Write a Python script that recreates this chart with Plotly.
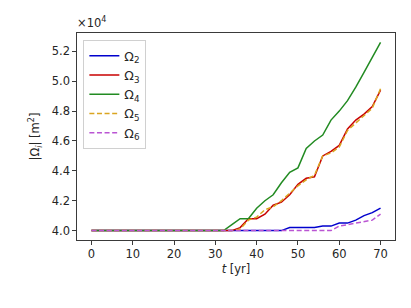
import plotly.graph_objects as go

t = list(range(0, 72, 2))

omega2 = [4.0]*24 + [4.02, 4.02, 4.02, 4.02, 4.03, 4.03, 4.05, 4.05, 4.07, 4.10, 4.12, 4.15]
omega3 = [4.0]*18 + [4.02, 4.08, 4.08, 4.11, 4.17, 4.19, 4.24, 4.31, 4.35, 4.36, 4.50, 4.53, 4.57, 4.68, 4.74, 4.78, 4.83, 4.94]
omega4 = [4.0]*17 + [4.04, 4.08, 4.08, 4.15, 4.20, 4.24, 4.32, 4.39, 4.42, 4.55, 4.60, 4.64, 4.74, 4.80, 4.87, 4.96, 5.06, 5.16, 5.26]
omega5 = [4.0]*18 + [4.01, 4.07, 4.09, 4.14, 4.16, 4.20, 4.25, 4.30, 4.34, 4.37, 4.50, 4.52, 4.56, 4.67, 4.72, 4.77, 4.82, 4.95]
omega6 = [4.0]*30 + [4.03, 4.04, 4.05, 4.06, 4.07, 4.11]

scale = 1e4
x_ticks = [0, 10, 20, 30, 40, 50, 60, 70]
y_ticks = [4.0, 4.2, 4.4, 4.6, 4.8, 5.0, 5.2]

series = [
    ("Ω<sub>2</sub>", omega2, "#0000cd", "solid"),
    ("Ω<sub>3</sub>", omega3, "#c80000", "solid"),
    ("Ω<sub>4</sub>", omega4, "#228b22", "solid"),
    ("Ω<sub>5</sub>", omega5, "#daa520", "5px,2.6px"),
    ("Ω<sub>6</sub>", omega6, "#ba55d3", "5px,2.6px"),
]

fig = go.Figure()
for name, vals, color, dash in series:
    fig.add_trace(go.Scatter(
        x=t, y=[v * scale for v in vals], mode="lines", name=name,
        line=dict(color=color, width=1.5, dash=dash),
    ))

font = dict(family="DejaVu Sans", size=11.5, color="#262626")
axis_common = dict(
    showgrid=False, zeroline=False, showline=True, mirror=True,
    linecolor="#3a3a3a", linewidth=1.2, ticks="outside", ticklen=3.5,
    tickwidth=1, tickcolor="#3a3a3a", tickfont=font, automargin=False,
)

fig.update_layout(
    width=411, height=308,
    margin=dict(l=77, r=16, t=33, b=68),
    paper_bgcolor="white", plot_bgcolor="white",
    font=font,
    showlegend=True,
    legend=dict(
        x=0.02, y=0.965, xanchor="left", yanchor="top",
        bgcolor="rgba(255,255,255,0.85)", bordercolor="#d0d0d0", borderwidth=1,
        font=dict(family="DejaVu Sans", size=12.5, color="#262626"),
        itemwidth=30, tracegroupgap=0,
    ),
    xaxis=dict(
        range=[-3.5, 73.5], tickvals=x_ticks,
        ticktext=[str(v) for v in x_ticks],
        title=dict(text="<i>t</i> [yr]", font=dict(family="DejaVu Sans", size=11.5, color="#262626"), standoff=4),
        **axis_common,
    ),
    yaxis=dict(
        range=[3.937 * scale, 5.323 * scale],
        tickvals=[v * scale for v in y_ticks],
        ticktext=[f"{v:.1f}" for v in y_ticks],
        title=dict(text="|Ω<sub><i>i</i></sub>| [m<sup>2</sup>]", font=dict(family="DejaVu Sans", size=11.5, color="#262626"), standoff=9),
        **axis_common,
    ),
    annotations=[dict(
        text="×10<sup>4</sup>", x=0, y=1, xref="paper", yref="paper",
        xanchor="left", yanchor="bottom", showarrow=False, yshift=1, xshift=-2,
        font=dict(family="DejaVu Sans", size=11.5, color="#262626"),
    )],
)

fig.write_html("out.html", config={"displayModeBar": False},
               post_script="document.body.style.margin='0';")
